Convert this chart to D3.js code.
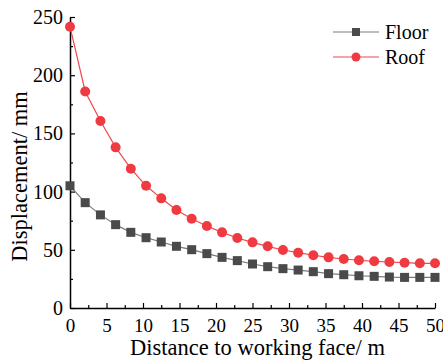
<!DOCTYPE html>
<html>
<head>
<meta charset="utf-8">
<script src="https://cdn.jsdelivr.net/npm/d3@7"></script>
<style>
  body { margin: 0; background: #fff; }
</style>
</head>
<body>
<svg width="443" height="362" font-family="Liberation Serif"></svg>
<script>
// distance to working face (m), 25 points spread over 0..50
var distance = [0, 2.08, 4.17, 6.25, 8.33, 10.42, 12.5, 14.58, 16.67, 18.75, 20.83, 22.92, 25,
    27.08, 29.17, 31.25, 33.33, 35.42, 37.5, 39.58, 41.67, 43.75, 45.83, 47.92, 50];
var floorValues = [105, 90.5, 80, 71.6, 65, 60.4, 56.7, 53, 50.1, 46.7, 43.5, 40.7, 37.8,
    35.5, 33.8, 32.6, 31.2, 29.5, 28.6, 27.7, 27.2, 26.6, 26.3, 26.3, 26.3];
var roofValues = [241.7, 186, 160.7, 138, 119.7, 105, 94.2, 84.2, 76.7, 70.4, 65, 60.1, 56.4,
    53, 49.8, 47.5, 45.3, 43.5, 42.1, 41, 40.1, 39.5, 38.9, 38.4, 38.4];
var xTicks = [0, 5, 10, 15, 20, 25, 30, 35, 40, 45, 50];
var yTicks = [0, 50, 100, 150, 200, 250];

var FONT = "Liberation Serif";

var series = [
    {name: "Floor", values: floorValues, line: "#7a7a7a", marker: "#4a4a4a", shape: "square"},
    {name: "Roof", values: roofValues, line: "#f0474d", marker: "#ef3a42", shape: "circle"}
];

var svg = d3.select("svg"),
    margin = {top: 17, right: 8, bottom: 54, left: 70},
    width = +svg.attr("width") - margin.left - margin.right,
    height = +svg.attr("height") - margin.top - margin.bottom;

var x = d3.scaleLinear().domain([0, 50]).range([0, width]),
    y = d3.scaleLinear().domain([0, 250]).range([height, 0]);

var g = svg.append("g")
    .attr("transform", "translate(" + margin.left + "," + margin.top + ")");

// minor ticks first, then the major axis on top
g.append("g")
    .attr("transform", "translate(0," + height + ")")
    .call(d3.axisBottom(x).tickValues(d3.range(2.5, 50, 5)).tickSize(-3).tickFormat(""))
    .call(function (a) { a.select(".domain").remove(); });
g.append("g")
    .call(d3.axisLeft(y).tickValues(d3.range(25, 250, 50)).tickSize(-3).tickFormat(""))
    .call(function (a) { a.select(".domain").remove(); });

var xAxis = g.append("g")
    .attr("class", "axis axis--x")
    .attr("transform", "translate(0," + height + ")")
    .call(d3.axisBottom(x).tickValues(xTicks).tickSize(-5).tickSizeOuter(0).tickPadding(10));
var yAxis = g.append("g")
    .attr("class", "axis axis--y")
    .call(d3.axisLeft(y).tickValues(yTicks).tickSize(-5).tickSizeOuter(0).tickPadding(7));

g.selectAll("g").attr("font-family", FONT);
g.selectAll(".tick line").attr("stroke", "#000").attr("stroke-width", 1.2);
g.selectAll(".domain").attr("stroke", "#000").attr("stroke-width", 1.5);
xAxis.selectAll("text").attr("font-size", 19).attr("dy", "0.72em").attr("fill", "#000");
yAxis.selectAll("text").attr("font-size", 20).attr("fill", "#000");

svg.append("text")
    .attr("x", margin.left + width / 2 + 5)
    .attr("y", 355)
    .attr("text-anchor", "middle")
    .attr("font-family", FONT)
    .attr("font-size", 22.5)
    .text("Distance to working face/ m");

svg.append("text")
    .attr("transform", "translate(27," + (margin.top + height / 2 + 14) + ") rotate(-90)")
    .attr("text-anchor", "middle")
    .attr("font-family", FONT)
    .attr("font-size", 22.5)
    .text("Displacement/ mm");

var line = d3.line()
    .x(function (d, i) { return x(distance[i]); })
    .y(function (d) { return y(d); });

series.forEach(function (s) {
    g.append("path")
        .datum(s.values)
        .attr("fill", "none")
        .attr("stroke", s.line)
        .attr("stroke-width", 1.2)
        .attr("d", line);

    if (s.shape === "square") {
        g.selectAll(".pt-" + s.name)
            .data(s.values)
            .enter().append("rect")
            .attr("x", function (d, i) { return x(distance[i]) - 4.5; })
            .attr("y", function (d) { return y(d) - 4.5; })
            .attr("width", 9)
            .attr("height", 9)
            .attr("fill", s.marker);
    } else {
        g.selectAll(".pt-" + s.name)
            .data(s.values)
            .enter().append("circle")
            .attr("cx", function (d, i) { return x(distance[i]); })
            .attr("cy", function (d) { return y(d); })
            .attr("r", 5)
            .attr("fill", s.marker);
    }
});

// legend
var legend = svg.append("g").attr("transform", "translate(333,32)");
series.forEach(function (s, i) {
    var row = legend.append("g").attr("transform", "translate(0," + (i * 25) + ")");
    row.append("line")
        .attr("x1", 0).attr("x2", 46)
        .attr("stroke", s.line).attr("stroke-width", 1.2);
    if (s.shape === "square") {
        row.append("rect").attr("x", 23 - 4).attr("y", -4).attr("width", 8).attr("height", 8).attr("fill", s.marker);
    } else {
        row.append("circle").attr("cx", 23).attr("r", 4.5).attr("fill", s.marker);
    }
    row.append("text")
        .attr("x", 52)
        .attr("dy", "0.35em")
        .attr("font-family", FONT)
        .attr("font-size", 20)
        .text(s.name);
});
</script>
</body>
</html>
